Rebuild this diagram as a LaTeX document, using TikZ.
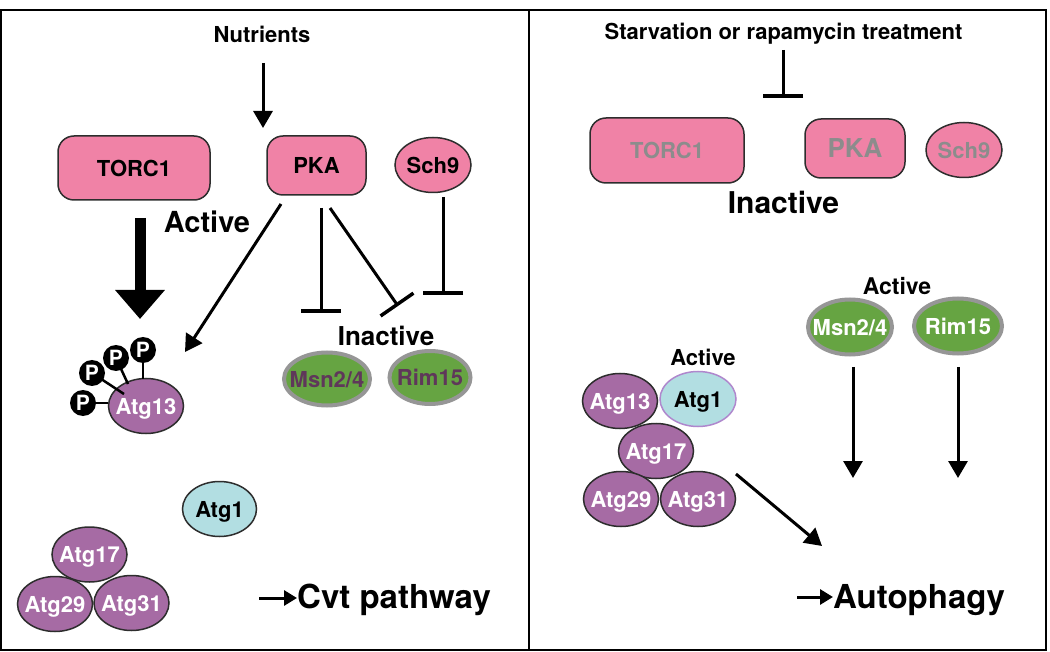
\documentclass[tikz,border=0pt]{standalone}
\usepackage{fontspec}
\setmainfont{TeX Gyre Heros}
\usetikzlibrary{shapes.geometric,arrows.meta,calc}
\definecolor{pinkfill}{RGB}{240,130,166}
\definecolor{purplefill}{RGB}{166,107,164}
\definecolor{greenfill}{RGB}{102,164,66}
\definecolor{bluefill}{RGB}{178,222,226}
\definecolor{greytext}{RGB}{140,140,140}
\definecolor{darkpurpletext}{RGB}{95,55,90}
\definecolor{greyborder}{RGB}{150,150,150}
\definecolor{lilacborder}{RGB}{175,135,205}
\definecolor{outline}{RGB}{45,45,45}
\newcommand{\fs}[1]{\fontsize{#1}{#1}\selectfont\bfseries}
\newcommand{\ctext}[1]{\makebox[0pt][c]{\vphantom{A}\smash{#1}}}
\tikzset{
  kinase/.style={draw=outline, line width=1.5pt, fill=pinkfill, rounded corners=16pt, inner sep=0pt, font=\fs{22}},
  ovalbase/.style={ellipse, inner sep=0pt, font=\fs{22}},
  pinkoval/.style={ovalbase, draw=outline, line width=1.5pt, fill=pinkfill, minimum width=76pt, minimum height=55pt},
  atgoval/.style={ovalbase, draw=outline, line width=1.5pt, fill=purplefill, text=white, minimum width=75pt, minimum height=55pt},
  blueoval/.style={ovalbase, draw=outline, line width=1.5pt, fill=bluefill, minimum width=74pt, minimum height=55pt},
  greenoval/.style={ovalbase, draw=greyborder, line width=4pt, fill=greenfill},
  pball/.style={circle, fill=black, text=white, inner sep=0pt, minimum size=26pt, font=\fs{21}},
  arr/.style={line width=3pt, -{Triangle[length=17pt,width=19pt]}},
  smallarr/.style={line width=3pt, -{Triangle[length=13pt,width=15pt]}},
  bigarr/.style={line width=11pt, -{Triangle[length=29pt,width=48pt]}},
  inhib/.style={line width=3pt, -{Bar[width=40pt,line width=3.5pt]}},
  plink/.style={line width=2.5pt},
  lbl/.style={inner sep=0pt}
}
\begin{document}
\begin{tikzpicture}[x=1pt,y=-1pt]
\useasboundingbox (0,0) rectangle (1050,652);
\fill[white] (0,0) rectangle (1050,652);
% frame
\draw[line width=2pt] (1,10.5) rectangle (1046,650);
\draw[line width=2pt] (529,10.5) -- (529,650);

% ================= LEFT PANEL =================
\node[lbl, font=\fs{22}] (nutr) at (262,34) {Nutrients};
\node[kinase, minimum width=152pt, minimum height=64pt] (torcL) at (134,168) {\ctext{TORC1}};
\node[kinase, minimum width=99pt, minimum height=59pt] (pkaL) at (316.5,165.5) {\ctext{PKA}};
\node[pinkoval] (sch9L) at (433,165) {\ctext{Sch9}};
\node[lbl, font=\fs{29}] (activeL) at (207,222) {Active};

\coordinate (nutrStart) at (263,63);
\coordinate (nutrEnd) at (263,128);
\draw[arr] (nutrStart) -- (nutrEnd);

% Atg13 with phosphates
\node[atgoval] (a13L) at (146,406) {\ctext{Atg13}};
\coordinate (c1) at (83,403);
\coordinate (c2) at (92,373);
\coordinate (c3) at (116,358);
\coordinate (c4) at (143,350);
\draw[plink] (c1) -- (a13L.west |- c1);
\draw[plink] (c2) -- (124,394);
\draw[plink] (c3) -- (128,384);
\draw[plink] (c4) -- (143,379);
\node[pball] (p1) at (c1) {\ctext{P}};
\node[pball] (p2) at (c2) {\ctext{P}};
\node[pball] (p3) at (c3) {\ctext{P}};
\node[pball] (p4) at (c4) {\ctext{P}};

% big arrow TORC1 -> Atg13
\coordinate (bigStart) at (140,218);
\coordinate (bigEnd) at (140,319);
\draw[bigarr] (bigStart) -- (bigEnd);

% PKA -> Atg13
\coordinate (pkaArrS) at (281,204);
\coordinate (pkaArrE) at (185,352);
\draw[arr] (pkaArrS) -- (pkaArrE);

% inactive targets
\node[lbl, font=\fs{26}] (inactL) at (386,336) {Inactive};
\node[greenoval, minimum width=86pt, minimum height=53pt, text=darkpurpletext] (msnL) at (327,379) {\ctext{Msn2/4}};
\node[greenoval, minimum width=81pt, minimum height=53pt, text=darkpurpletext] (rimL) at (430,377.5) {\ctext{Rim15}};

% inhibitions
\coordinate (inh1S) at (321,208);
\coordinate (inh1E) at (321,313);
\draw[inhib] (inh1S) -- (inh1E);
\coordinate (inh2S) at (330,208);
\coordinate (inh2E) at (398,306);
\draw[inhib] (inh2S) -- (inh2E);
\coordinate (inh3S) at (443,197);
\coordinate (inh3E) at (443,295);
\draw[inhib] (inh3S) -- (inh3E);

% free Atg1 and Atg17 complex
\node[blueoval] (a1L) at (219.5,509) {\ctext{Atg1}};
\node[atgoval] (a17L) at (89.5,554.5) {\ctext{Atg17}};
\node[atgoval] (a29L) at (55,604) {\ctext{Atg29}};
\node[atgoval] (a31L) at (131.5,603) {\ctext{Atg31}};

% Cvt pathway
\node[lbl, font=\fs{33}, anchor=base west] (cvt) at (297,608) {Cvt pathway};
\coordinate (cvtArr) at (259,598);
\draw[smallarr] (cvtArr) -- (cvtArr -| cvt.west);

% ================= RIGHT PANEL =================
\node[lbl, font=\fs{22}] (starv) at (783.5,34) {Starvation or rapamycin treatment};
\coordinate (stS) at (783,50);
\coordinate (stE) at (783,98);
\draw[inhib] (stS) -- (stE);

\node[kinase, minimum width=154pt, minimum height=65pt, text=greytext] (torcR) at (667,150.5) {\ctext{TORC1}};
\node[kinase, minimum width=100pt, minimum height=59pt, text=greytext, font=\fs{26}] (pkaR) at (855,148.5) {\ctext{PKA}};
\node[pinkoval, text=greytext] (sch9R) at (964,150) {\ctext{Sch9}};
\node[lbl, font=\fs{30}] (inactR) at (783.5,202) {Inactive};

\node[lbl, font=\fs{23}] (activeR1) at (897,286) {Active};
\node[greenoval, minimum width=84pt, minimum height=55pt, text=white] (msnR) at (850,327) {\ctext{Msn2/4}};
\node[greenoval, minimum width=88pt, minimum height=55pt, text=white] (rimR) at (958,326) {\ctext{Rim15}};

\coordinate (msnArrS) at (853,367);
\coordinate (msnArrE) at (853,478);
\draw[arr] (msnArrS) -- (msnArrE);
\coordinate (rimArrS) at (958,367);
\coordinate (rimArrE) at (958,478);
\draw[arr] (rimArrS) -- (rimArrE);

\node[lbl, font=\fs{22}] (activeR2) at (703,357) {Active};
\node[atgoval] (a13R) at (620,401) {\ctext{Atg13}};
\node[blueoval, draw=lilacborder, minimum width=76pt] (a1R) at (698,399) {\ctext{Atg1}};
\node[atgoval] (a17R) at (656,451) {\ctext{Atg17}};
\node[atgoval] (a29R) at (621,499) {\ctext{Atg29}};
\node[atgoval] (a31R) at (698,499) {\ctext{Atg31}};

\coordinate (cxArrS) at (736,474);
\coordinate (cxArrE) at (822,546);
\draw[arr] (cxArrS) -- (cxArrE);

\node[lbl, font=\fs{33}, anchor=base west] (auto) at (833,608) {Autophagy};
\coordinate (autoArr) at (797,597);
\draw[smallarr] (autoArr) -- (autoArr -| auto.west);
\end{tikzpicture}
\end{document}
